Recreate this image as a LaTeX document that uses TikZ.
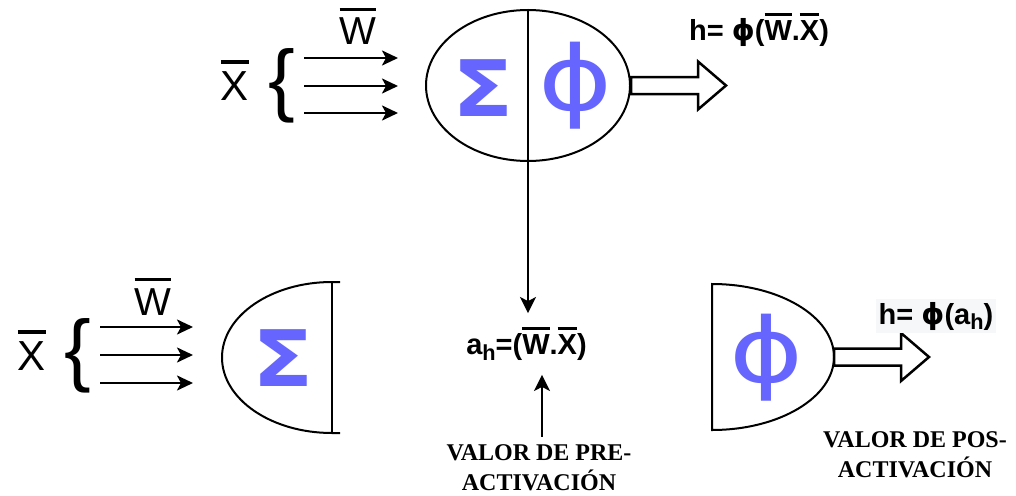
\documentclass[tikz,border=0pt]{standalone}
\usepackage{fontspec}
\setmainfont{Liberation Sans}
\newfontfamily\notefont{Liberation Serif}
\newfontfamily\symfont{DejaVu Sans}
\usepackage{graphicx}
\usetikzlibrary{arrows.meta,shapes.geometric,positioning}
\definecolor{symblue}{RGB}{102,102,255}
\definecolor{tagbg}{RGB}{246,247,249}
\newcommand\ovl[1]{\vbox{\hrule height .08em\kern .18em\hbox{#1}}}
\newcommand\sbh{\raisebox{-.2em}{\scalebox{.75}{h}}}
\newcommand\bigsum{\scalebox{1.15}[1]{Σ}}
\newcommand\bigphi{\scalebox{1.25}[1]{ϕ}}
\tikzset{
  vec/.style  ={font=\fontsize{42}{48}\selectfont, inner sep=0pt, anchor=base},
  brc/.style  ={font=\fontsize{80}{90}\selectfont, inner sep=0pt},
  sum/.style  ={text=symblue, inner sep=0pt,
                font=\symfont\bfseries\fontsize{78}{80}\selectfont},
  act/.style  ={text=symblue, inner sep=0pt,
                font=\symfont\fontsize{90}{92}\selectfont},
  eqn/.style  ={font=\bfseries\fontsize{29}{34}\selectfont, inner sep=0pt},
  note/.style ={font=\notefont\bfseries\fontsize{24}{30}\selectfont,
                align=center, inner sep=8pt},
  unit/.style ={draw, line width=2pt},
  flow/.style ={-{Stealth[length=16pt,width=15pt,inset=4pt]}, line width=2.5pt},
  link/.style ={-{Stealth[length=16pt,width=16pt,inset=4pt]}, line width=2pt},
  hollow/.pic ={\draw[line width=2.5pt, fill=white] (0,-8.5) -- (67,-8.5)
                -- (67,-24) -- (95,0) -- (67,24) -- (67,8.5) -- (0,8.5) -- cycle;},
}

\begin{document}
\begin{tikzpicture}[x=1pt, y=-1pt]
\useasboundingbox (0,0) rectangle (1016,495);

% ---- full neuron -----------------------------------------------------
\node[unit, ellipse, minimum width=204pt, minimum height=151pt, inner sep=0pt]
      (neu) at (528,85.5) {};
\draw[line width=2pt] (neu.north) -- (neu.south);
\node[sum] (sumT) at (483,88) {\bigsum};
\node[act] (actT) at (576,86) {\bigphi};

\node[vec] (xT) at (235,100) {\ovl{X}};
\node[vec, font=\fontsize{39}{45}\selectfont] (wT) at (358,45) {\ovl{W}};
\node[brc] (brT) at (282,86) {\{};
\foreach \y [count=\i] in {58,86,113} {
  \coordinate (inT\i) at (304,\y);
  \coordinate (tipT\i) at (398,\y);
  \draw[flow] (inT\i) -- (tipT\i);
}
\pic at (neu.east) {hollow};
\node[eqn] (hT) at (759,30) {h= {\symfont ϕ}(\ovl{W}.\ovl{X})};

% ---- split neuron: sum ------------------------------------------------
\draw[unit] (340,282) -- (332,282)
      arc[start angle=270, end angle=90, x radius=110, y radius=75.5] -- (340,433);
\draw[unit] (332,282) -- (332,433);
\node[sum] (sumB) at (283,358) {\bigsum};

\node[vec] (xB) at (32,370) {\ovl{X}};
\node[vec, font=\fontsize{39}{45}\selectfont] (wB) at (153,315) {\ovl{W}};
\node[brc] (brB) at (78,355.5) {\{};
\foreach \y [count=\i] in {327,355,383} {
  \coordinate (inB\i) at (100,\y);
  \coordinate (tipB\i) at (193,\y);
  \draw[flow] (inB\i) -- (tipB\i);
}

% ---- split neuron: activation -----------------------------------------
\draw[unit] (712,284)
      arc[start angle=270, end angle=450, x radius=122, y radius=73] -- cycle;
\node[act] (actB) at (767,358) {\bigphi};
\coordinate (outB) at (834,357);
\pic at (outB) {hollow};
\node[eqn, fill=tagbg, inner sep=3pt] (hB) at (936,316) {h= {\symfont ϕ}(a\sbh)};

% ---- pre-activation value ---------------------------------------------
\node[eqn, inner sep=14pt] (ah) at (526.5,344) {a\sbh=(\ovl{W}.\ovl{X})};
\draw[link] (neu.south) -- (neu.south |- ah.north);
\node[note] (pre) at (539,468) {VALOR DE PRE-\\ACTIVACIÓN};
\draw[link] ([xshift=3pt]pre.north) -- ([xshift=3pt]pre.north |- ah.south);
\node[note] (pos) at (915,455) {VALOR DE POS-\\ACTIVACIÓN};

\end{tikzpicture}
\end{document}
